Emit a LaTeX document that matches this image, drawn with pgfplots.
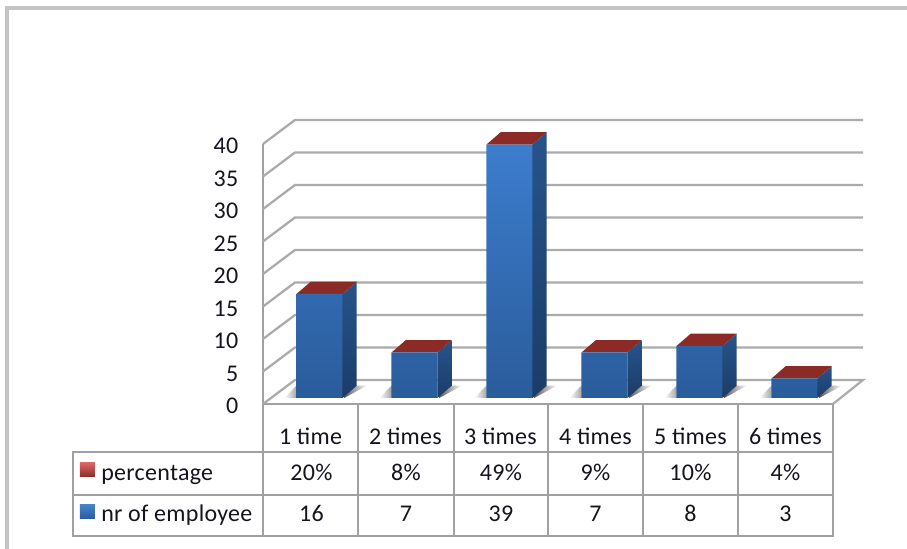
\documentclass[border=0pt]{standalone}
\usepackage{fontspec}
\setmainfont{Carlito}[LetterSpace=1.2]
\usepackage{pgfplots}
\pgfplotsset{compat=1.18}
\definecolor{gridc}{HTML}{ABABAB}
\definecolor{linec}{HTML}{A0A0A0}
\definecolor{txt}{HTML}{14141E}
\definecolor{toprd}{HTML}{8C2A26}
% one bar's side and top, drawn in data units
\newcommand{\sidetop}[2]{%
  \pgfmathsetmacro{\xl}{#1+0.5-0.242}%
  \pgfmathsetmacro{\xr}{#1+0.5+0.242}%
  \pgfmathsetmacro{\xlb}{\xl+0.15}%
  \pgfmathsetmacro{\xrb}{\xr+0.15}%
  \pgfmathsetmacro{\yb}{1.9}%
  \pgfmathsetmacro{\yt}{#2+1.9}%
  \addplot[forget plot,barshift,draw=none,
    top color={rgb,255:red,39;green,84;blue,140},bottom color={rgb,255:red,27;green,60;blue,104}]
    coordinates {(\xr,0)(\xrb,\yb)(\xrb,\yt)(\xr,#2)} --cycle;
  \addplot[forget plot,barshift,draw=none,fill=toprd]
    coordinates {(\xl,#2)(\xr,#2)(\xrb,\yt)(\xlb,\yt)} --cycle;
}
% floor shadow either side of a bar
\newcommand{\shadow}[1]{%
  \pgfmathsetmacro{\xa}{#1+0.5-0.37}%
  \pgfmathsetmacro{\xb}{#1+0.5-0.242}%
  \pgfmathsetmacro{\xc}{#1+0.5+0.50}%
  \pgfmathsetmacro{\xd}{#1+0.5+0.26}%
  \addplot[forget plot,barshift,draw=none,left color=white,right color=black!35]
    coordinates {(\xa,0)(\xb,0)(\xb,1.9)} --cycle;
  \addplot[forget plot,barshift,draw=none,left color=black!65,right color=white]
    coordinates {(\xd,0)(\xc,1.9)(\xd,1.9)} --cycle;
}
\tikzset{barshift/.style={xshift=6.75pt,yshift=4.5pt}}
\begin{document}
\begin{tikzpicture}
\useasboundingbox (-197.25pt,-108.75pt) rectangle (483pt,303pt);
% page frame
\begin{scope}[x=.75pt,y=-.75pt,shift={(-197.25pt,303pt)}]
  \draw[color=gridc!70,line width=2.6pt] (7,549) -- (7,8) -- (907,8);
\end{scope}
\begin{axis}[
  scale only axis,
  width=427.5pt, height=195pt,
  xmin=0, xmax=6, ymin=0, ymax=40,
  clip=false,
  axis lines=left,
  axis line style={-,color=linec,line width=1.5pt},
  major tick length=0pt,
  ytick={0,5,10,15,20,25,30,35,40},
  xtick={0.5,1.5,2.5,3.5,4.5,5.5},
  xticklabels={1 time,2 times,3 times,4 times,5 times,6 times},
  xticklabel style={anchor=base,yshift=-30.5pt},
  yticklabel style={anchor=east,xshift=-15pt,yshift=-1.5pt},
  tick label style={font=\fontsize{18}{20}\selectfont,text=txt},
  /pgf/number format/assume math mode=true,
]
% back wall and side wall
\addplot[forget plot,color=gridc,line width=1.7pt,mark=none] coordinates {(0,0)(0.337,3.7)(6.316,3.7)(6,0)};
\addplot[forget plot,color=gridc,line width=1.7pt] coordinates {(0,5)(0.337,8.7)(6.316,8.7)};
\addplot[forget plot,color=gridc,line width=1.7pt] coordinates {(0,10)(0.337,13.7)(6.316,13.7)};
\addplot[forget plot,color=gridc,line width=1.7pt] coordinates {(0,15)(0.337,18.7)(6.316,18.7)};
\addplot[forget plot,color=gridc,line width=1.7pt] coordinates {(0,20)(0.337,23.7)(6.316,23.7)};
\addplot[forget plot,color=gridc,line width=1.7pt] coordinates {(0,25)(0.337,28.7)(6.316,28.7)};
\addplot[forget plot,color=gridc,line width=1.7pt] coordinates {(0,30)(0.337,33.7)(6.316,33.7)};
\addplot[forget plot,color=gridc,line width=1.7pt] coordinates {(0,35)(0.337,38.7)(6.316,38.7)};
\addplot[forget plot,color=gridc,line width=1.7pt] coordinates {(0,40)(0.337,43.7)(6.316,43.7)};
% bars
\shadow{0}\shadow{1}\shadow{2}\shadow{3}\shadow{4}\shadow{5}
\sidetop{0}{16}\sidetop{1}{7}\sidetop{2}{39}\sidetop{3}{7}\sidetop{4}{8}\sidetop{5}{3}
\addplot[ybar,bar width=34.5pt,bar shift=0pt,barshift,draw=none,
  top color={rgb,255:red,60;green,125;blue,205},bottom color={rgb,255:red,42;green,92;blue,155}]
  coordinates {(0.5,16)(1.5,7)(2.5,39)(3.5,7)(4.5,8)(5.5,3)};
\end{axis}
% data table under the plot, in picture pixels
\begin{scope}[x=.75pt,y=-.75pt,shift={(-197.25pt,303pt)},
    every node/.style={font=\fontsize{18}{20}\selectfont,text=txt,inner sep=0pt}]
  \draw[color=linec,line width=1.5pt] (73,452) rectangle (833,536);
  \draw[color=linec,line width=1.5pt] (73,495) -- (833,495);
  \foreach \x in {263,358,454,548,643,738,833}
    \draw[color=linec,line width=1.5pt] (\x,404) -- (\x,536);
  \shade[top color=red!75!black!60,bottom color=toprd] (80,463) rectangle (95,477);
  \shade[top color={rgb,255:red,70;green,130;blue,200},bottom color={rgb,255:red,42;green,92;blue,155}] (80,505) rectangle (95,519);
  \node[anchor=base west] at (101,481) {percentage};
  \node[anchor=base west] at (101,522) {nr of employee};
  \foreach \x/\p/\n in {311.5/20\%/16,406/8\%/7,501/49\%/39,595.5/9\%/7,690.5/10\%/8,785.5/4\%/3}{
    \node[anchor=base] at (\x,481) {\p};
    \node[anchor=base] at (\x,522) {\n};
  }
\end{scope}
\end{tikzpicture}
\end{document}
